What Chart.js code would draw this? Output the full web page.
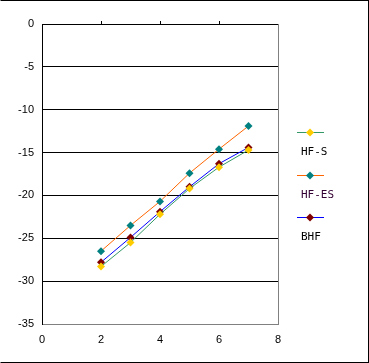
<!DOCTYPE html>
<html>
<head>
<meta charset="utf-8">
<script src="https://cdn.jsdelivr.net/npm/chart.js@4/dist/chart.umd.min.js"></script>
<style>
  html, body { margin: 0; padding: 0; background: #fff; }
  #wrap { position: relative; width: 369px; height: 363px; }
  #frame { position: absolute; left: 0; top: 0; width: 367px; height: 361px; border: 1px solid #000; border-left-color: #fff; pointer-events: none; }
</style>
</head>
<body>
<div id="wrap">
  <canvas id="chart" width="369" height="363"></canvas>
  <div id="frame"></div>
</div>
<script>
const xValues = [2, 3, 4, 5, 6, 7];
const hfS = [-28.3, -25.5, -22.2, -19.2, -16.7, -14.7];
const hfES = [-26.5, -23.5, -20.7, -17.4, -14.6, -11.9];
const bhf = [-27.8, -24.9, -21.9, -19.0, -16.3, -14.4];
const seriesNames = ["HF-S", "HF-ES", "BHF"];
const legendTextColors = ["#000000", "#330033", "#000000"];

const toPoints = (ys) => ys.map((y, i) => ({ x: xValues[i], y: y }));

const makeSeries = (label, ys, lineColor, markerColor) => ({
  label: label,
  data: toPoints(ys),
  borderColor: lineColor,
  borderWidth: 1,
  backgroundColor: markerColor,
  pointBackgroundColor: markerColor,
  pointBorderColor: markerColor,
  pointStyle: "rectRot",
  pointRadius: 4,
  pointBorderWidth: 0,
  tension: 0,
});

// legend drawn to the right of the plot, line sample above each name
const sideLegend = {
  id: "sideLegend",
  afterDraw(chart) {
    const ctx = chart.ctx;
    const area = chart.chartArea;
    const x0 = area.right + 19;
    const rows = [132, 175, 217];
    ctx.save();
    chart.data.datasets.forEach((ds, i) => {
      const y = rows[i];
      ctx.strokeStyle = ds.borderColor;
      ctx.lineWidth = 1;
      ctx.beginPath();
      ctx.moveTo(x0, y + 0.5);
      ctx.lineTo(x0 + 27, y + 0.5);
      ctx.stroke();
      const cx = x0 + 13, r = 4;
      ctx.fillStyle = ds.pointBackgroundColor;
      ctx.beginPath();
      ctx.moveTo(cx, y + 0.5 - r);
      ctx.lineTo(cx + r, y + 0.5);
      ctx.lineTo(cx, y + 0.5 + r);
      ctx.lineTo(cx - r, y + 0.5);
      ctx.closePath();
      ctx.fill();
      ctx.fillStyle = legendTextColors[i];
      ctx.font = "11px 'DejaVu Sans Mono'";
      ctx.textBaseline = "middle";
      ctx.textAlign = "left";
      ctx.fillText(seriesNames[i], x0 + 4, y + 20);
    });
    ctx.restore();
  },
};

// small x tick marks sticking up from the 0 line
const topTicks = {
  id: "topTicks",
  afterDatasetsDraw(chart) {
    const ctx = chart.ctx;
    const xs = chart.scales.x;
    const top = chart.chartArea.top;
    ctx.save();
    ctx.strokeStyle = "#000";
    ctx.lineWidth = 1;
    [2, 4, 6].forEach((v) => {
      const px = Math.round(xs.getPixelForValue(v)) + 0.5;
      ctx.beginPath();
      ctx.moveTo(px, top - 3);
      ctx.lineTo(px, top);
      ctx.stroke();
    });
    ctx.restore();
  },
};

new Chart(document.getElementById("chart"), {
  type: "line",
  data: {
    datasets: [
      makeSeries(seriesNames[0], hfS, "#339966", "#FFCC00"),
      makeSeries(seriesNames[1], hfES, "#FF6600", "#008080"),
      makeSeries(seriesNames[2], bhf, "#0000FF", "#800000"),
    ],
  },
  options: {
    responsive: false,
    animation: false,
    layout: { padding: { left: 0, top: 24, right: 91, bottom: 0 } },
    plugins: { legend: { display: false }, tooltip: { enabled: false } },
    scales: {
      x: {
        type: "linear",
        min: 0,
        max: 8,
        afterFit: (scale) => { scale.height = 39; },
        ticks: { stepSize: 2, padding: 9, color: "#000", font: { family: "Liberation Sans", size: 11 } },
        grid: {
          drawTicks: false,
          color: (c) => (c.tick && c.tick.value === 8 ? "#808080" : "rgba(0,0,0,0)"),
        },
        border: { color: "#808080", width: 1 },
      },
      y: {
        min: -35,
        max: 0,
        afterFit: (scale) => { scale.width = 42; },
        ticks: { stepSize: 5, padding: 8, color: "#000", font: { family: "Liberation Sans", size: 11 } },
        grid: {
          drawTicks: false,
          color: (c) => (c.tick && c.tick.value === -35 ? "#808080" : "#000000"),
        },
        border: { color: "#000", width: 1 },
      },
    },
  },
  plugins: [sideLegend, topTicks],
});
</script>
</body>
</html>
